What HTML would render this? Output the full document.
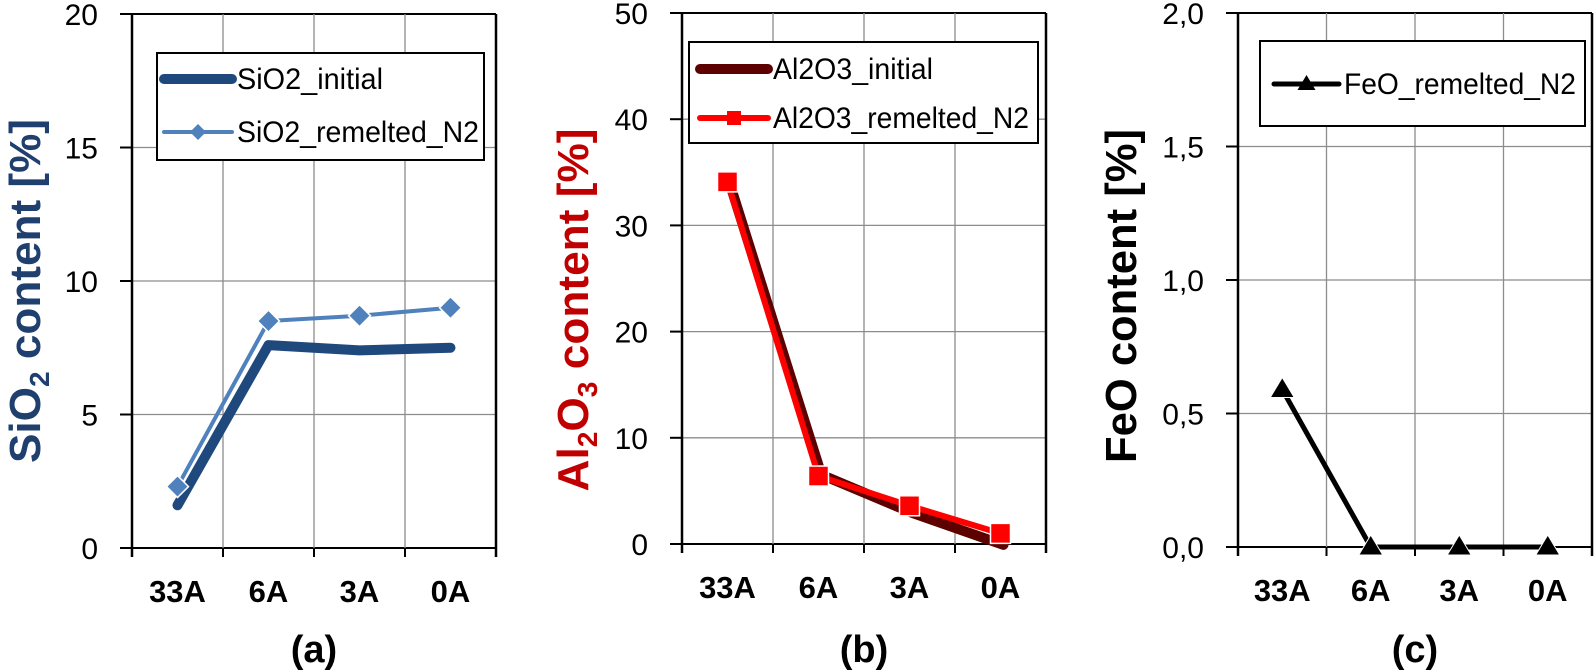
<!DOCTYPE html>
<html><head><meta charset="utf-8">
<style>
html,body{margin:0;padding:0;background:#fff;}
svg{display:block;font-family:"Liberation Sans",Arial,sans-serif;}
</style></head>
<body>
<svg id="chart" width="1594" height="671" viewBox="0 0 1594 671" xmlns="http://www.w3.org/2000/svg"></svg>
<script>
const categories = ["33A","6A","3A","0A"];
const sio2Initial = [1.6, 7.6, 7.4, 7.5];
const sio2Remelted = [2.3, 8.5, 8.7, 9.0];
const al2o3Initial = [34, 6.8, 3.2, 0.2];
const al2o3Remelted = [34.1, 6.4, 3.6, 1.0];
const feoRemelted = [0.59, 0, 0, 0];
const sio2Ticks = ["0","5","10","15","20"];
const al2o3Ticks = ["0","10","20","30","40","50"];
const feoTicks = ["0,0","0,5","1,0","1,5","2,0"];

const NS="http://www.w3.org/2000/svg";
const svg=document.getElementById('chart');
function mk(tag,attrs,parent){const e=document.createElementNS(NS,tag);for(const k in attrs)e.setAttribute(k,attrs[k]);(parent||svg).appendChild(e);return e;}

function panel(cfg){
  const g=mk('g',{});
  
  
  const L=cfg.x0,R=cfg.x1,T=cfg.yTop,B=cfg.yBot;
  const n=categories.length, cw=(R-L)/n;
  const xs=i=>L+cw*(i+0.5);
  const ys=v=>B-(v/cfg.max)*(B-T);
  cfg.ticks.forEach((t,i)=>{
    const v=cfg.max*i/(cfg.ticks.length-1), y=ys(v);
    const gl=mk('line',{x1:L,x2:R,y1:y,y2:y,stroke:(i===0||i===cfg.ticks.length-1)?'#000':'#8c8c8c','stroke-width':(i===0||i===cfg.ticks.length-1)?2:1.3},g);
    
    
    mk('line',{x1:L-12,x2:L,y1:y,y2:y,stroke:'#000','stroke-width':2},g);
    const tx=mk('text',{x:L-34,y:y+11,'text-anchor':'end','font-size':30,fill:'#000'},g);
    tx.textContent=t;
    
    
  });
  for(let i=1;i<n;i++){
    const x=L+cw*i;
    mk('line',{x1:x,x2:x,y1:T,y2:B,stroke:'#8c8c8c','stroke-width':1.3},g);
    mk('line',{x1:x,x2:x,y1:B,y2:B+9,stroke:'#000','stroke-width':2},g);
  }
  mk('line',{x1:R,x2:R,y1:T,y2:B+9,stroke:'#000','stroke-width':2.5},g);
  mk('line',{x1:L,x2:L,y1:T,y2:B+9,stroke:'#000','stroke-width':2.5},g);
  categories.forEach((c,i)=>{
    const t=mk('text',{x:xs(i),y:B+54,'text-anchor':'middle','font-size':31,'font-weight':'bold',fill:'#000'},g);
    t.textContent=c;
    
    
  });
  const tt=mk('text',{transform:`translate(${cfg.titleX},${cfg.titleY}) rotate(-90)`,'text-anchor':'middle','font-size':44,'font-weight':'bold',fill:cfg.titleColor,textLength:cfg.titleLen,lengthAdjust:'spacingAndGlyphs'},g);
  tt.innerHTML=cfg.title;
  
  
  const pl=mk('text',{x:(L+R)/2,y:662,'text-anchor':'middle','font-size':38,'font-weight':'bold',fill:'#000'},g);
  pl.textContent=cfg.label;
  
  
  cfg.series.forEach(s=>{
    const pts=s.data.map((v,i)=>`${xs(i)+(s.dx||0)},${ys(v)+(s.dy||0)}`).join(' ');
    const p=mk('polyline',{points:pts,fill:'none',stroke:s.color,'stroke-width':s.w,'stroke-linejoin':'round','stroke-linecap':'round'},g);
    
    
    s.data.forEach((v,i)=>{
      const x=xs(i),y=ys(v);let m=null;
      if(s.marker==='diamond') m=mk('polygon',{points:`${x},${y-11} ${x+11},${y} ${x},${y+11} ${x-11},${y}`,fill:s.color,stroke:'#fff','stroke-width':1.5},g);
      if(s.marker==='square') m=mk('rect',{x:x-10,y:y-10,width:20,height:20,fill:s.color,stroke:'#fff','stroke-width':1.5},g);
      if(s.marker==='triangle') m=mk('polygon',{points:`${x},${y-12} ${x+12},${y+8} ${x-12},${y+8}`,fill:'#000',stroke:'#fff','stroke-width':1},g);
      if(m){}
    });
  });
  const lg=mk('g',{},g);
  
  
  const lb=cfg.legend;
  mk('rect',{x:lb.x,y:lb.y,width:lb.w,height:lb.h,fill:'#fff',stroke:'#000','stroke-width':2},lg);
  cfg.series.forEach((s,k)=>{
    const y=lb.rows[k];
    const e=mk('g',{},lg);
    
    
    mk('line',{x1:lb.lx0,x2:lb.lx1,y1:y,y2:y,stroke:s.color,'stroke-width':s.w,'stroke-linecap':'round'},e);
    const mx=(lb.lx0+lb.lx1)/2;
    if(s.marker==='diamond') mk('polygon',{points:`${mx},${y-8} ${mx+8},${y} ${mx},${y+8} ${mx-8},${y}`,fill:s.color},e);
    if(s.marker==='square') mk('rect',{x:mx-7,y:y-7,width:14,height:14,fill:s.color},e);
    if(s.marker==='triangle') mk('polygon',{points:`${mx},${y-9} ${mx+9},${y+6} ${mx-9},${y+6}`,fill:'#000'},e);
    const t=mk('text',{x:lb.lx1+5,y:y+10,'font-size':30,fill:'#000',textLength:lb.tl[k],lengthAdjust:'spacingAndGlyphs'},e);
    t.textContent=s.label;
  });
}

panel({name:'panel-a-sio2',x0:132,x1:496,yTop:14,yBot:548,max:20,ticks:sio2Ticks,label:'(a)',
  title:'SiO<tspan font-size="28" dy="9">2</tspan><tspan dy="-9"> content [%]</tspan>',titleX:40,titleY:291,titleLen:344,titleColor:'#1f3f6e',
  legend:{x:157,y:53,w:327,h:107,rows:[79,132],lx0:164,lx1:232,tl:[146,242]},
  series:[
    {name:'sio2-initial',label:'SiO2_initial',data:sio2Initial,color:'#1f497d',w:10},
    {name:'sio2-remelted',label:'SiO2_remelted_N2',data:sio2Remelted,color:'#4f81bd',w:4,marker:'diamond'}
  ]});
panel({name:'panel-b-al2o3',x0:682,x1:1046,yTop:13,yBot:544,max:50,ticks:al2o3Ticks,label:'(b)',
  title:'Al<tspan font-size="28" dy="9">2</tspan><tspan dy="-9">O</tspan><tspan font-size="28" dy="9">3</tspan><tspan dy="-9"> content [%]</tspan>',titleX:588,titleY:310,titleLen:363,titleColor:'#c00000',
  legend:{x:689,y:42,w:349,h:101,rows:[69,118],lx0:700,lx1:768,tl:[160,256]},
  series:[
    {name:'al2o3-initial',label:'Al2O3_initial',data:al2o3Initial,color:'#5c0000',w:10,dx:3,dy:3},
    {name:'al2o3-remelted',label:'Al2O3_remelted_N2',data:al2o3Remelted,color:'#ff0000',w:6,marker:'square'}
  ]});
panel({name:'panel-c-feo',x0:1238,x1:1592,yTop:13,yBot:547,max:2,ticks:feoTicks,label:'(c)',
  title:'FeO content [%]',titleX:1136,titleY:296,titleLen:334,titleColor:'#000',
  legend:{x:1260,y:41,w:325,h:85,rows:[84],lx0:1274,lx1:1339,tl:[232]},
  series:[
    {name:'feo-remelted',label:'FeO_remelted_N2',data:feoRemelted,color:'#000',w:5,marker:'triangle'}
  ]});
</script>
</body></html>
